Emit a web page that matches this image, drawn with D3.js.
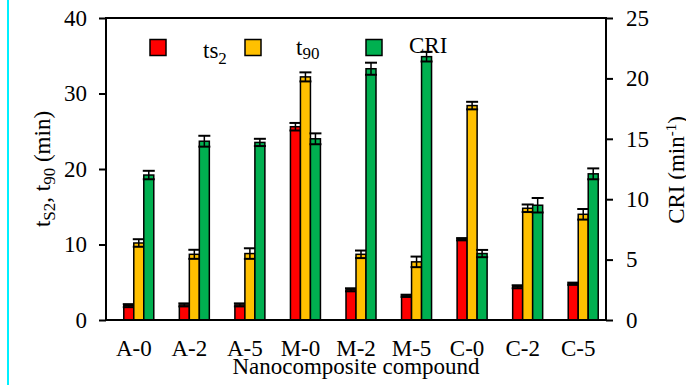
<!DOCTYPE html>
<html>
<head>
<meta charset="utf-8">
<script src="https://cdn.jsdelivr.net/npm/d3@7"></script>
<style>
  body { margin: 0; background: #fff; }
  svg text { font-family: "Liberation Serif", "Times New Roman", serif; fill: #000; }
</style>
</head>
<body>
<script>
// categories on the x axis
var categories = ["A-0", "A-2", "A-5", "M-0", "M-2", "M-5", "C-0", "C-2", "C-5"];

// series values (min) and error bars
var ts2 = [1.9, 2.0, 2.0, 25.6, 4.0, 3.2, 10.7, 4.4, 4.8];
var ts2Err = [0.2, 0.2, 0.2, 0.5, 0.2, 0.15, 0.15, 0.2, 0.15];
var t90 = [10.2, 8.7, 8.8, 32.2, 8.7, 7.7, 28.4, 14.8, 14.0];
var t90Err = [0.5, 0.6, 0.7, 0.6, 0.5, 0.7, 0.5, 0.5, 0.7];
// CRI (min^-1), right axis
var cri = [12.0, 14.8, 14.7, 15.0, 20.8, 21.8, 5.5, 9.5, 12.1];
var criErr = [0.35, 0.45, 0.3, 0.45, 0.5, 0.4, 0.3, 0.6, 0.45];

// tick labels
var leftTicks = [0, 10, 20, 30, 40];
var rightTicks = [0, 5, 10, 15, 20, 25];

var width = 686, height = 385;
var plotL = 106, plotR = 606, plotT = 18, plotB = 320;

var svg = d3.select("body").append("svg")
    .attr("width", width)
    .attr("height", height);

// cyan line on the left edge
svg.append("line")
    .attr("x1", 8).attr("x2", 8)
    .attr("y1", 0).attr("y2", height)
    .attr("stroke", "#00f0ff")
    .attr("stroke-width", 2);

var x = d3.scaleBand().domain(categories).range([plotL, plotR]);
var sub = d3.scaleBand().domain(["ts2", "t90", "cri"]).range([0, 30]);
var yL = d3.scaleLinear().domain([0, 40]).range([plotB, plotT]);
var yR = d3.scaleLinear().domain([0, 25]).range([plotB, plotT]);

var series = [
  {key: "ts2", vals: ts2, err: ts2Err, color: "#ff0000", y: yL},
  {key: "t90", vals: t90, err: t90Err, color: "#ffc000", y: yL},
  {key: "cri", vals: cri, err: criErr, color: "#00b050", y: yR}
];

//drawing the bars and error bars
series.forEach(function(s) {
  var g = svg.append("g");
  var bw = sub.bandwidth();
  var bx = function(d, i) { return x(categories[i]) + x.bandwidth() / 2 - 10 + sub(s.key); };

  g.selectAll("rect")
    .data(s.vals)
    .enter().append("rect")
    .attr("x", bx)
    .attr("y", function(d) { return s.y(d); })
    .attr("width", bw)
    .attr("height", function(d) { return plotB - s.y(d); })
    .attr("fill", s.color)
    .attr("stroke", "#000")
    .attr("stroke-width", 1.5);

  var e = g.selectAll("g.err")
    .data(s.vals)
    .enter().append("g")
    .attr("class", "err");

  e.append("line")
    .attr("x1", function(d, i) { return bx(d, i) + bw / 2; })
    .attr("x2", function(d, i) { return bx(d, i) + bw / 2; })
    .attr("y1", function(d, i) { return s.y(d - s.err[i]); })
    .attr("y2", function(d, i) { return s.y(d + s.err[i]); })
    .attr("stroke", "#000").attr("stroke-width", 1.5);

  [-1, 1].forEach(function(sign) {
    e.append("line")
      .attr("x1", function(d, i) { return bx(d, i) - 1; })
      .attr("x2", function(d, i) { return bx(d, i) + bw + 1; })
      .attr("y1", function(d, i) { return s.y(d + sign * s.err[i]); })
      .attr("y2", function(d, i) { return s.y(d + sign * s.err[i]); })
      .attr("stroke", "#000").attr("stroke-width", 2);
  });
});

//frame
svg.append("rect")
    .attr("x", plotL).attr("y", plotT)
    .attr("width", plotR - plotL).attr("height", plotB - plotT)
    .attr("fill", "none")
    .attr("stroke", "#000")
    .attr("stroke-width", 2);

//left axis
var gl = svg.append("g")
    .attr("transform", "translate(" + plotL + ",0)")
    .call(d3.axisLeft(yL).tickValues(leftTicks).tickSize(7).tickSizeOuter(0).tickPadding(12));
gl.select(".domain").remove();

//right axis
var gr = svg.append("g")
    .attr("transform", "translate(" + plotR + ",0)")
    .call(d3.axisRight(yR).tickValues(rightTicks).tickSize(7).tickSizeOuter(0).tickPadding(13));
gr.select(".domain").remove();

//bottom axis labels
var gb = svg.append("g")
    .attr("transform", "translate(0," + plotB + ")")
    .call(d3.axisBottom(x).tickSize(0).tickPadding(20));
gb.select(".domain").remove();

svg.selectAll(".tick line").attr("stroke", "#000").attr("stroke-width", 2);
svg.selectAll(".tick text")
    .style("font-family", "'Liberation Serif', 'Times New Roman', serif")
    .style("font-size", "23px")
    .attr("fill", "#000");

//x axis title
svg.append("text")
    .attr("x", (plotL + plotR) / 2)
    .attr("y", 374)
    .attr("text-anchor", "middle")
    .style("font-size", "23px")
    .text("Nanocomposite compound");

//left axis title
var lt = svg.append("text")
    .attr("transform", "translate(50,169) rotate(-90)")
    .attr("text-anchor", "middle")
    .style("font-size", "23px");
lt.append("tspan").text("t");
lt.append("tspan").attr("dy", 5).style("font-size", "17px").text("S2");
lt.append("tspan").attr("dy", -5).text(", t");
lt.append("tspan").attr("dy", 5).style("font-size", "17px").text("90");
lt.append("tspan").attr("dy", -5).text(" (min)");

//right axis title
var rt = svg.append("text")
    .attr("transform", "translate(684,170) rotate(-90)")
    .attr("text-anchor", "middle")
    .style("font-size", "23px");
rt.append("tspan").text("CRI (min");
rt.append("tspan").attr("dy", -8).style("font-size", "15px").text("-1");
rt.append("tspan").attr("dy", 8).text(")");

//legend
var legend = [
  {color: "#ff0000", sx: 150, tx: 203, ty: 58, main: "ts", subTxt: "2", sdy: 6},
  {color: "#ffc000", sx: 245, tx: 296, ty: 55, main: "t", subTxt: "90", sdy: 4},
  {color: "#00b050", sx: 366, tx: 409, ty: 53, main: "CRI", subTxt: "", sdy: 0}
];
legend.forEach(function(l) {
  svg.append("rect")
    .attr("x", l.sx).attr("y", 39.5)
    .attr("width", 16).attr("height", 16)
    .attr("fill", l.color)
    .attr("stroke", "#000")
    .attr("stroke-width", 1.5);
  var t = svg.append("text")
    .attr("x", l.tx).attr("y", l.ty)
    .style("font-size", "23px");
  t.append("tspan").text(l.main);
  if (l.subTxt) t.append("tspan").attr("dy", l.sdy).style("font-size", "17px").text(l.subTxt);
});
</script>
</body>
</html>
